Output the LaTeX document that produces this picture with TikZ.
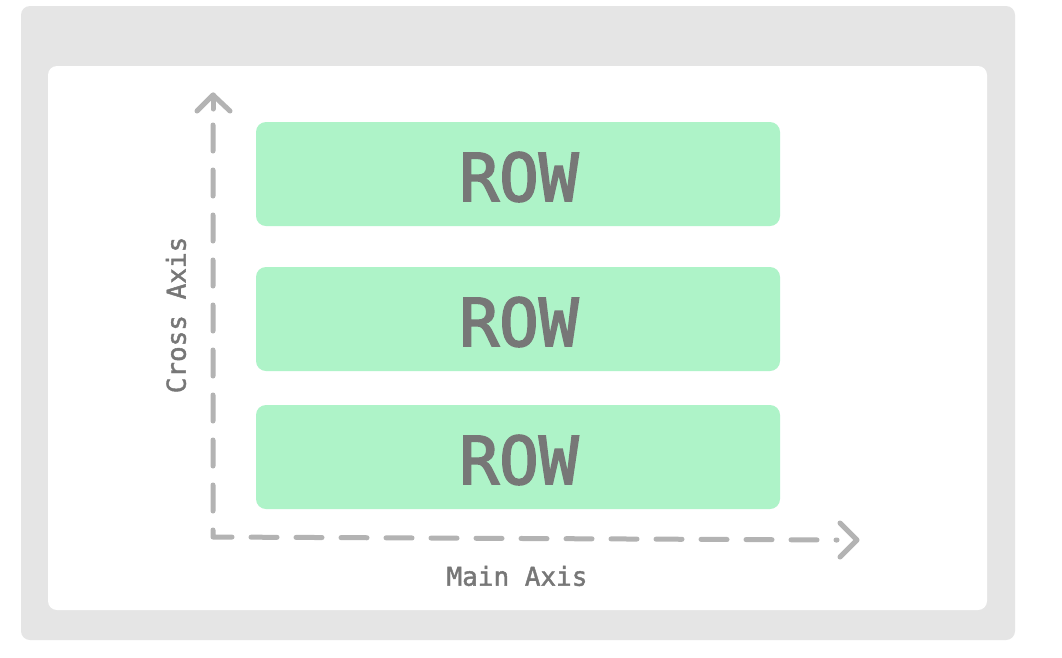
\documentclass[tikz,border=0pt]{standalone}
\usepackage{fontspec}
\newfontfamily\monofont[FakeBold=1.6]{DejaVu Sans Mono}
\newfontfamily\rowfont[FakeBold=2.6]{DejaVu Sans Mono}
\definecolor{outerbg}{HTML}{E5E5E5}
\definecolor{rowgreen}{HTML}{AEF3C8}
\definecolor{txtgray}{HTML}{777777}
\definecolor{axisgray}{HTML}{B3B3B3}
\begin{document}
\begin{tikzpicture}[x=1pt,y=-1pt,
  rowbox/.style={fill=rowgreen, rounded corners=10pt, minimum width=524pt, minimum height=104pt, inner sep=0pt},
  rowtext/.style={text=txtgray, inner sep=0pt, font=\rowfont\fontsize{66}{66}\selectfont},
  axisline/.style={draw=axisgray, line width=5pt, line cap=round, line join=round, dash pattern=on 26pt off 19pt},
  axishead/.style={draw=axisgray, line width=5pt, line cap=round, line join=round},
  axislabel/.style={text=txtgray, font=\monofont\fontsize{26}{26}\selectfont, inner sep=0pt}]
\useasboundingbox (0,0) rectangle (1062,657);
\fill[white] (0,0) rectangle (1062,657);
\fill[outerbg, rounded corners=9pt] (21,6) rectangle (1015,640);
\fill[white, rounded corners=9pt] (48,66) rectangle (987,610);
\node[rowbox] (r1) at (518,174) {};
\node[rowbox] (r2) at (518,319) {};
\node[rowbox] (r3) at (518,457) {};
\node[rowtext] (t1) at ([xshift=1pt,yshift=-3pt]r1.center) {ROW};
\node[rowtext] (t2) at ([xshift=1pt,yshift=-3pt]r2.center) {ROW};
\node[rowtext] (t3) at ([xshift=1pt,yshift=-3pt]r3.center) {ROW};
\coordinate (ytip) at (213,95);
\coordinate (origin) at (213,537);
\coordinate (xtip) at (857,540);
\draw[axisline] ([yshift=-30pt]ytip) -- (origin) -- ([xshift=-20pt]xtip);
\draw[axishead] (197,111) -- (ytip) -- (230,111);
\draw[axishead] (ytip) -- ++(0,14);
\draw[axishead] (840,523) -- (xtip) -- (840,557);
\node[axislabel, rotate=90] (cross) at (176,315) {Cross Axis};
\node[axislabel] (main) at (517,576) {Main Axis};
\end{tikzpicture}
\end{document}
